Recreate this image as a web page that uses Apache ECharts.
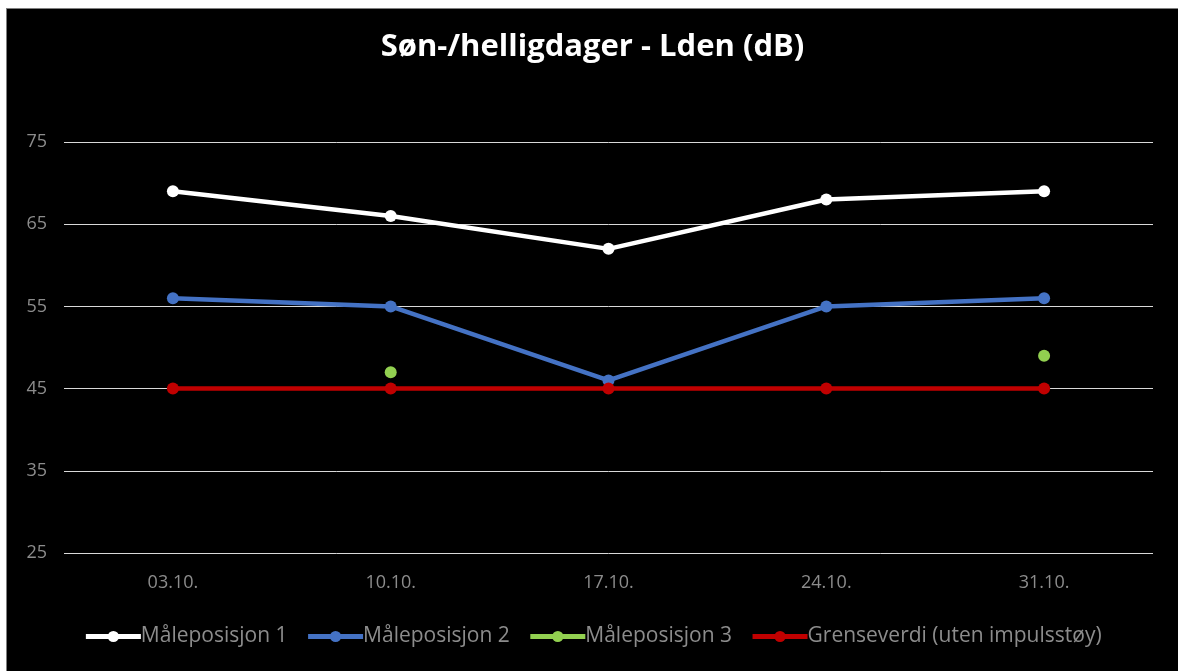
<!DOCTYPE html>
<html>
<head>
<meta charset="utf-8">
<script src="https://cdn.jsdelivr.net/npm/echarts@6/dist/echarts.min.js"></script>
<style>
html,body{margin:0;padding:0;background:#ffffff;width:1178px;height:671px;overflow:hidden;}
#chart{position:absolute;left:6px;top:8px;width:1172px;height:663px;background:#000;border-top:1px solid #7f7f7f;border-left:1px solid #7f7f7f;box-sizing:border-box;}
</style>
</head>
<body>
<div id="chart"></div>
<script>
var categories = ['03.10.', '10.10.', '17.10.', '24.10.', '31.10.'];
var pos1 = [69, 66, 62, 68, 69];
var pos2 = [56, 55, 46, 55, 56];
var pos3 = [null, 47, null, null, 49];
var limit = [45, 45, 45, 45, 45];
var names = ['Måleposisjon 1', 'Måleposisjon 2', 'Måleposisjon 3', 'Grenseverdi (uten impulsstøy)'];
var colors = ['#ffffff', '#4472c4', '#92d050', '#c00000'];

var font = 'Open Sans, Liberation Sans, sans-serif';
function mk(i, data) {
  return {
    name: names[i], type: 'line', data: data,
    symbol: 'circle', symbolSize: 12,
    lineStyle: {color: colors[i], width: 4.5},
    itemStyle: {color: colors[i]},
    connectNulls: false, animation: false
  };
}
var chart = echarts.init(document.getElementById('chart'));
chart.setOption({
  backgroundColor: '#000',
  title: {text: 'Søn-/helligdager - Lden (dB)', left: 'center', top: 18,
    textStyle: {color: '#ffffff', fontSize: 31, fontWeight: 'bold', fontFamily: font}},
  grid: {left: 57, right: 25, top: 133, bottom: 118},
  legend: {bottom: 19, left: 'center', itemWidth: 55, itemHeight: 14, itemGap: 18,
    lineStyle: {width: 5},
    textStyle: {color: '#8c8c8c', fontSize: 21, fontFamily: font, padding: [0,0,0,-5]},
    data: names},
  xAxis: {type: 'category', data: categories, boundaryGap: true,
    axisLine: {show: false}, axisTick: {show: false},
    axisLabel: {color: '#8c8c8c', fontSize: 18, fontFamily: font, margin: 21}},
  yAxis: {type: 'value', min: 25, max: 75, interval: 10,
    axisLine: {show: false}, axisTick: {show: false},
    axisLabel: {color: '#8c8c8c', fontSize: 18, fontFamily: font, margin: 17},
    splitLine: {lineStyle: {color: '#d9d9d9', width: 1}}},
  series: [mk(0, pos1), mk(1, pos2), mk(2, pos3), mk(3, limit)]
});
</script>
</body>
</html>
